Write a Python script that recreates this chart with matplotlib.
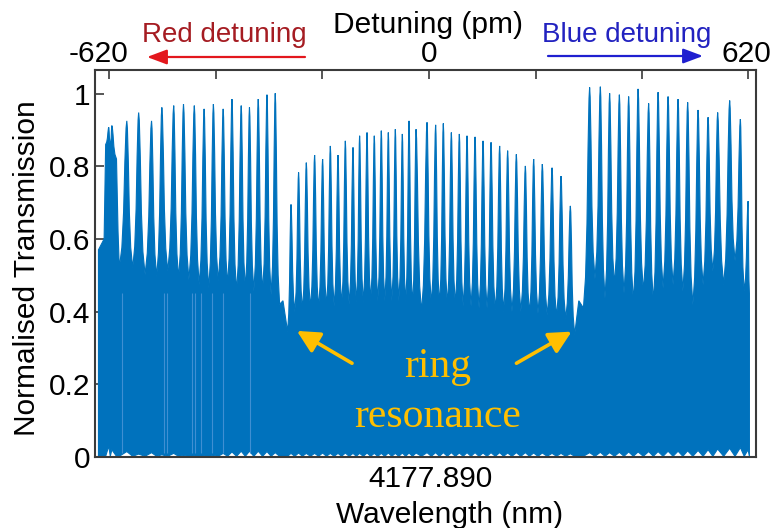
import numpy as np
import matplotlib
matplotlib.use("Agg")
import matplotlib.pyplot as plt
from matplotlib.transforms import blended_transform_factory, offset_copy

plt.rcParams['font.family'] = ['Liberation Sans', 'DejaVu Sans']

# ---- fringe data (detuning in pm, normalised transmission) ----
# red-detuned side
red_pm = [-621, -615, -586, -563, -538, -518, -495, -476, -455, -436,
          -418, -399, -382, -364, -348, -331, -314, -298]
red_max = [0.907, 0.912, 0.925, 0.948, 0.925, 0.962, 0.967, 0.971, 0.967, 0.958,
           0.971, 0.958, 0.985, 0.967, 0.962, 0.985, 0.997, 1.001]
red_gap = [0.86, 0.52, 0.52, 0.502, 0.497, 0.511, 0.492, 0.488, 0.474,
           0.465, 0.484, 0.474, 0.456, 0.465, 0.456, 0.456, 0.446]
red_floor = [0.03, 0.02, 0.015, 0.008, 0.012, 0.006, 0.01, 0.004, 0.003,
             0.003, 0.004, 0.01, 0.014, 0.016, 0.016, 0.016, 0.015, 0.012]

# inside the ring resonance
ring_pm = [-267.4, -252.7, -237.7, -221.6, -206.1, -191.1, -176.2, -162.0, -147.1,
           -134.3, -119.9, -105.8, -92.2, -78.6, -65.0, -51.4, -38.4, -24.8,
           -3.5, 13.2, 28.1, 43.7, 59.2, 74.1, 89.7, 105.2, 120.7, 137.4,
           152.9, 169.8, 187.3, 203.4, 220.2, 239.1, 256.5, 274.6]
ring_max = [0.695, 0.783, 0.810, 0.831, 0.820, 0.856, 0.831, 0.870, 0.852,
            0.884, 0.893, 0.884, 0.898, 0.893, 0.902, 0.889, 0.925, 0.902,
            0.921, 0.914, 0.918, 0.893, 0.889, 0.884, 0.881, 0.870, 0.866,
            0.856, 0.843, 0.833, 0.801, 0.820, 0.806, 0.796, 0.773, 0.691]
ring_gap = [0.40, 0.405, 0.41, 0.41, 0.415, 0.415, 0.42, 0.42, 0.425, 0.425,
            0.43, 0.43, 0.43, 0.43, 0.43, 0.425, 0.42, 0.40, 0.42, 0.42,
            0.42, 0.42, 0.415, 0.415, 0.41, 0.41, 0.405, 0.40, 0.40, 0.40,
            0.395, 0.395, 0.39, 0.385, 0.38]
ring_floor = [0.010, 0.011, 0.010, 0.010, 0.011, 0.010, 0.010, 0.011, 0.010,
              0.010, 0.011, 0.010, 0.010, 0.011, 0.010, 0.011, 0.011, 0.011,
              0.012, 0.012, 0.012, 0.012, 0.011, 0.012, 0.012, 0.011, 0.012,
              0.012, 0.011, 0.012, 0.012, 0.011, 0.011, 0.010, 0.010, 0.009]

# blue-detuned side
blue_pm = [312.0, 332.8, 350.8, 369.7, 387.7, 406.0, 426.5, 444.8, 464.2,
           483.6, 502.2, 522.4, 541.8, 560.4, 583.7, 604.5, 619.4]
blue_max = [1.017, 1.019, 1.001, 0.997, 0.992, 1.013, 0.973, 1.004, 0.992,
            0.985, 0.976, 0.955, 0.935, 0.948, 0.981, 0.930, 0.704]
blue_gap = [0.49, 0.437, 0.474, 0.451, 0.428, 0.456, 0.428, 0.465,
            0.474, 0.456, 0.419, 0.474, 0.511, 0.474, 0.54, 0.456]
blue_floor = [0.012, 0.013, 0.012, 0.013, 0.014, 0.014, 0.015, 0.015, 0.016,
              0.016, 0.017, 0.018, 0.020, 0.022, 0.024, 0.026, 0.020]

# scan edges and the two ring-resonance dips
edge_pm = [-641, -630, -627, -606, -603, -289.5, -283, -274, 283, 291, 300, 622]
edge_level = [0.57, 0.60, 0.86, 0.82, 0.62, 0.42, 0.43, 0.345, 0.337, 0.43, 0.41, 0.45]

# sparse, lighter traces on the red side
streak_pm = [-595, -513, -508, -460, -454, -442, -421, -399, -347]

BLUE = '#0072bd'
ORANGE = '#ffbf00'

# fringe profile: (fraction of distance to neighbour, fraction of height)
PROFILE = [(0.66, 0.14), (0.43, 0.38), (0.26, 0.72), (0.10, 0.95)]

events = []
for pm, mx, gp, fl in [(red_pm, red_max, red_gap, red_floor),
                       (ring_pm, ring_max, ring_gap, ring_floor),
                       (blue_pm, blue_max, blue_gap, blue_floor)]:
    for c, h, f in zip(pm, mx, fl):
        events.append((c, h, f, True))
    for i, g in enumerate(gp):
        events.append(((pm[i] + pm[i + 1]) / 2, g, 0.002, False))
for x, lv in zip(edge_pm, edge_level):
    events.append((x, lv, 0.002, False))
events.sort(key=lambda e: e[0])

ux, uy, lx, ly = [], [], [], []
for k, (x, lv, fl, is_peak) in enumerate(events):
    lx.append(x)
    ly.append(fl)
    if not is_peak:
        ux.append(x)
        uy.append(lv)
        continue
    xl, tl = events[k - 1][0], events[k - 1][1]
    xr, tr = events[k + 1][0], events[k + 1][1]
    for fx, fh in PROFILE:
        ux.append(x - fx * (x - xl))
        uy.append(tl + fh * (lv - tl))
    ux.append(x)
    uy.append(lv)
    for fx, fh in PROFILE[::-1]:
        ux.append(x + fx * (xr - x))
        uy.append(tr + fh * (lv - tr))

fig = plt.figure(figsize=(7.74, 5.28), dpi=100)
ax = fig.add_axes([95 / 774, 1 - 457 / 528, 661 / 774, 387 / 528])

poly_x = np.r_[ux, lx[::-1]]
poly_y = np.r_[uy, ly[::-1]]
ax.fill(poly_x, poly_y, color=BLUE, lw=0.8, ec=BLUE, zorder=2)
ax.vlines(streak_pm, 0.012, 0.45, color='#3f8fd2', lw=0.8, zorder=3)

ax.set_xlim(-647.7, 634.8)
ax.set_ylim(0, 1.065)

for sp in ax.spines.values():
    sp.set_color('#3a3a3a')
    sp.set_linewidth(1.5)

FS = 21.5
ax.set_yticks([0, 0.2, 0.4, 0.6, 0.8, 1.0])
ax.set_yticklabels(['0', '0.2', '0.4', '0.6', '0.8', '1'])
ax.tick_params(axis='y', direction='in', length=6.5, width=1.2, color='#3a3a3a',
               labelsize=FS, pad=3.5, right=False)
ax.set_xticks([-16])
ax.set_xticklabels([''])
ax.tick_params(axis='x', direction='in', length=6.5, width=1.2, color='#3a3a3a')

top = ax.secondary_xaxis('top')
top.set_xticks([-620, -413, -207, 0, 207, 413, 620])
top.set_xticklabels([''] * 7)
top.tick_params(direction='in', length=6.5, width=1.2, color='#3a3a3a')
top.spines['top'].set_visible(False)

trans = blended_transform_factory(ax.transData, fig.transFigure)
base_top = 1 - 62 / 528
for pos, lab, dx in [(-620, '-620', -11), (0, '0', 0), (620, '620', -2)]:
    ax.text(pos, base_top, lab, fontsize=FS, ha='center', va='baseline',
            transform=offset_copy(trans, fig=fig, x=dx, y=0, units='dots'))

ax.text(4, 1 - 487 / 528, '4177.890', fontsize=FS, ha='center', va='baseline',
        transform=trans)
fig.text(450 / 774, 1 - 523 / 528, 'Wavelength (nm)', fontsize=FS,
         ha='center', va='baseline')
fig.text(428 / 774, 1 - 33 / 528, 'Detuning (pm)', fontsize=FS,
         ha='center', va='baseline')
fig.text(27 / 774, 1 - 268 / 528, 'Normalised Transmission', fontsize=FS,
         rotation=90, ha='center', va='center')

fig.text(224 / 774, 1 - 42 / 528, 'Red detuning', fontsize=20, color='#a51c22',
         ha='center', va='baseline')
fig.text(627 / 774, 1 - 42 / 528, 'Blue detuning', fontsize=20, color='#2222c0',
         ha='center', va='baseline')
fig.add_artist(matplotlib.patches.FancyArrowPatch(
    (305 / 774, 1 - 57 / 528), (147 / 774, 1 - 57 / 528),
    transform=fig.transFigure, arrowstyle='-|>,head_length=0.8,head_width=0.3',
    mutation_scale=15, lw=1.6, color='#e3171d', shrinkA=0, shrinkB=0))
fig.add_artist(matplotlib.patches.FancyArrowPatch(
    (548 / 774, 1 - 56 / 528), (703 / 774, 1 - 56 / 528),
    transform=fig.transFigure, arrowstyle='-|>,head_length=0.8,head_width=0.3',
    mutation_scale=15, lw=1.6, color='#1f1fd0', shrinkA=0, shrinkB=0))

# ring-resonance labels
ax.text(16.5, 1 - 377 / 528, 'ring', fontsize=30, color=ORANGE,
        family='Liberation Serif', ha='center', va='baseline',
        transform=trans, zorder=5)
ax.text(17.5, 1 - 427 / 528, 'resonance', fontsize=30, color=ORANGE,
        family='Liberation Serif', ha='center', va='baseline',
        transform=trans, zorder=5)
for tail, head in [((-149, 0.258), (-256, 0.347)), ((170, 0.258), (277, 0.345))]:
    ax.annotate('', xy=head, xytext=tail,
                arrowprops=dict(arrowstyle='-|>,head_length=0.75,head_width=0.38',
                                mutation_scale=18, lw=2.6, color=ORANGE,
                                shrinkA=0, shrinkB=0), zorder=5)

fig.savefig('out.png', dpi=100)
